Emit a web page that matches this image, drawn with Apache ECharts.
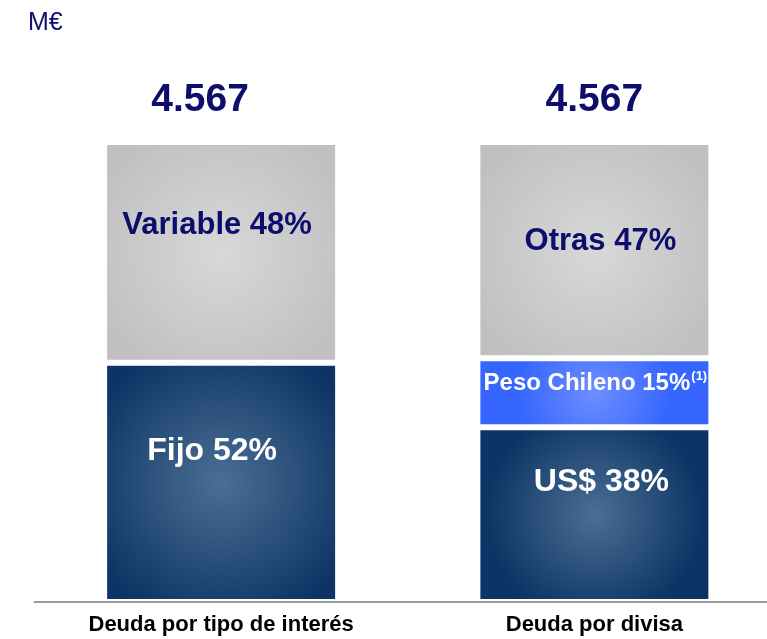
<!DOCTYPE html>
<html>
<head>
<meta charset="utf-8">
<script src="https://cdn.jsdelivr.net/npm/echarts@6/dist/echarts.min.js"></script>
<style>
  html, body { margin: 0; padding: 0; background: #ffffff; overflow: hidden; }
  /* the baseline runs past the right edge of the page, so the canvas is a bit wider */
  #chart { width: 781px; height: 639px; }
</style>
</head>
<body>
<div id="chart"></div>
<script>
// Debt structure (M€): by interest type and by currency
const categories = ['Deuda por tipo de interés', 'Deuda por divisa'];
const totals = [4567, 4567];

// Bottom segment: fixed rate / US dollar
const baseNames = ['Fijo', 'US$'];
const baseShare = [52, 38];
// Middle segment: Chilean peso (currency split only)
const midNames = [null, 'Peso Chileno'];
const midShare = [null, 15];
const midNote = [null, '(1)'];
// Top segment: variable rate / other currencies
const topNames = ['Variable', 'Otras'];
const topShare = [48, 47];

const FONT = '"Liberation Sans", Arial, sans-serif';
const NAVY_TEXT = '#0d0d6b';

function fmtThousands(v) {
  return String(v).replace(/\B(?=(\d{3})+(?!\d))/g, '.');
}

function boxGlow(center, edge, r) {
  return {
    type: 'radial', x: 0.5, y: 0.5, r: r,
    colorStops: [{ offset: 0, color: center }, { offset: 1, color: edge }]
  };
}

const navyFill = boxGlow('#4a6f94', '#0e3465', 0.62);
const greyFill = boxGlow('#d8d8d8', '#c0c0c0', 0.62);
const blueFill = boxGlow('#6e8eff', '#3666ff', 1.1);

// label nudges inside each segment [dx, dy]
const baseNudge = [[-9, -31], [7, -32]];
const midNudge = [null, [1, -9]];
const topNudge = [[-4, -27], [6, -9]];
const totalNudge = [-21, 0];

const segLabel = (color, size) => ({
  show: true, position: 'inside', color: color,
  fontFamily: FONT, fontWeight: 'bold', fontSize: size
});

const baseData = baseShare.map((v, i) => ({
  value: v,
  label: Object.assign(segLabel('#ffffff', 32), {
    offset: baseNudge[i],
    formatter: baseNames[i] + ' ' + v + '%'
  })
}));

const midData = midShare.map((v, i) => v == null ? '-' : ({
  value: v,
  label: {
    show: true, position: 'inside', offset: midNudge[i],
    formatter: '{a|' + midNames[i] + ' ' + v + '%}{s|' + midNote[i] + '}',
    rich: {
      a: { color: '#ffffff', fontFamily: FONT, fontWeight: 'bold', fontSize: 24, lineHeight: 27 },
      s: { color: '#ffffff', fontFamily: FONT, fontWeight: 'bold', fontSize: 13, lineHeight: 27, verticalAlign: 'top', padding: [0, 0, 8, 1] }
    }
  }
}));

const topData = topShare.map((v, i) => ({
  value: v,
  label: Object.assign(segLabel(NAVY_TEXT, 31), {
    offset: topNudge[i],
    formatter: topNames[i] + ' ' + v + '%'
  })
}));

// stack height per column, used to place the total above each bar
const stackSum = categories.map((_, i) => (baseShare[i] || 0) + (midShare[i] || 0) + (topShare[i] || 0));
const totalData = stackSum.map((s, i) => ({
  value: s,
  label: {
    show: true, position: 'top', distance: 22, offset: [totalNudge[i], 0],
    formatter: fmtThousands(totals[i]), opacity: 1,
    color: NAVY_TEXT, fontFamily: FONT, fontWeight: 'bold', fontSize: 39
  }
}));

const barBase = {
  type: 'bar', stack: 'deuda', barWidth: 234,
  itemStyle: { borderColor: '#ffffff', borderWidth: 3 },
  emphasis: { disabled: true }, silent: true
};

const chart = echarts.init(document.getElementById('chart'), null, { renderer: 'canvas' });
chart.setOption({
  animation: false,
  backgroundColor: '#ffffff',
  title: {
    text: 'M€', left: 23, top: 6,
    textStyle: { color: NAVY_TEXT, fontFamily: FONT, fontWeight: 'normal', fontSize: 25 }
  },
  grid: { left: 34.5, right: 0, top: 142, bottom: 37 },
  xAxis: {
    type: 'category', data: categories, z: 5,
    axisLine: { show: true, lineStyle: { color: '#9a9a9a', width: 2 } },
    axisTick: { show: false },
    axisLabel: {
      margin: 12, color: '#000000', fontFamily: FONT, fontWeight: 'bold', fontSize: 22
    }
  },
  yAxis: {
    type: 'value', min: 0, max: 100, show: false,
    splitLine: { show: false }
  },
  series: [
    Object.assign({}, barBase, { name: 'Fijo / US$', data: baseData, itemStyle: Object.assign({}, barBase.itemStyle, { color: navyFill }) }),
    Object.assign({}, barBase, { name: 'Peso Chileno', data: midData, itemStyle: Object.assign({}, barBase.itemStyle, { color: blueFill }) }),
    Object.assign({}, barBase, { name: 'Variable / Otras', data: topData, itemStyle: Object.assign({}, barBase.itemStyle, { color: greyFill }) }),
    {
      type: 'scatter', name: 'Total', symbolSize: 0, data: totalData,
      itemStyle: { opacity: 1 }, silent: true, z: 10
    }
  ]
});
</script>
</body>
</html>
